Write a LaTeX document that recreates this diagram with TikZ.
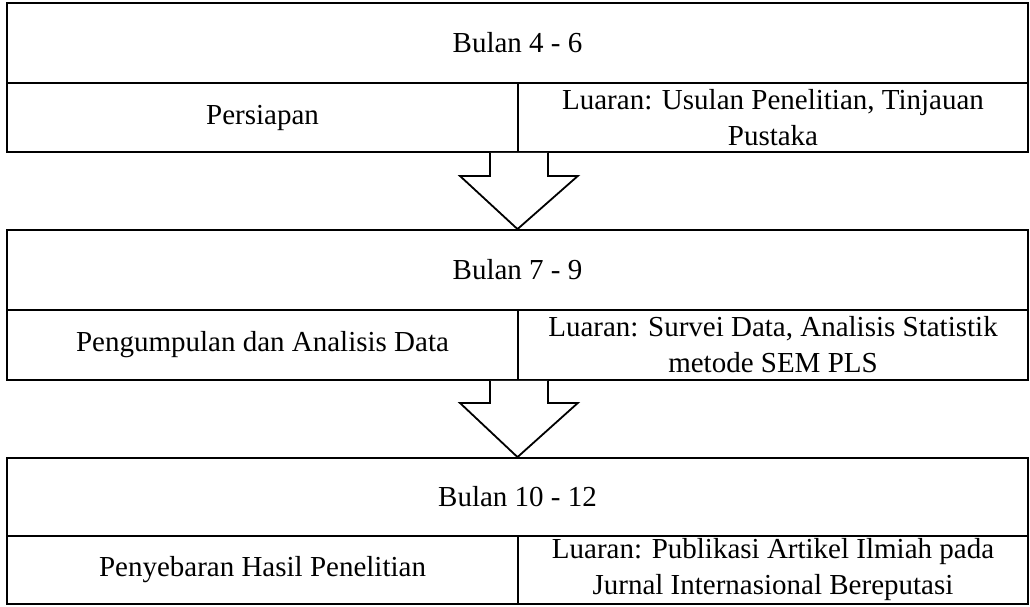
\documentclass[tikz,border=0pt]{standalone}
\usepackage{fontspec}
\setmainfont{Liberation Serif}
\usetikzlibrary{calc}
\begin{document}
\begin{tikzpicture}[x=1pt,y=-1pt,
    cell/.style={draw,line width=1.8pt,inner sep=0pt,align=center,
      font=\fontsize{29}{36}\selectfont},
    panah/.style={draw,line width=1.8pt,fill=white,line join=miter}]
  \useasboundingbox (0,0) rectangle (1030,607);
  % tahap 1
  \node[cell,minimum width=1021pt,minimum height=80pt] (bulan1) at (517.5,43) {Bulan 4 - 6};
  \node[cell,minimum width=511pt,minimum height=69pt] (kiri1) at (262.5,117.5) {Persiapan};
  \node[cell,minimum width=510pt,minimum height=69pt] (kanan1) at (773,117.5)
    {Luaran: Usulan Penelitian, Tinjauan\\Pustaka};
  % tahap 2
  \node[cell,minimum width=1021pt,minimum height=80pt] (bulan2) at (517.5,270) {Bulan 7 - 9};
  \node[cell,minimum width=511pt,minimum height=70pt] (kiri2) at (262.5,345) {Pengumpulan dan Analisis Data};
  \node[cell,minimum width=510pt,minimum height=70pt] (kanan2) at (773,345)
    {Luaran: Survei Data, Analisis Statistik\\metode SEM PLS};
  % tahap 3
  \node[cell,minimum width=1021pt,minimum height=78pt] (bulan3) at (517.5,497) {Bulan 10 - 12};
  \node[cell,minimum width=511pt,minimum height=68pt] (kiri3) at (262.5,570) {Penyebaran Hasil Penelitian};
  \node[cell,minimum width=510pt,minimum height=68pt] (kanan3) at (773,570)
    {Luaran: Publikasi Artikel Ilmiah pada\\Jurnal Internasional Bereputasi};
  % panah
  \draw[panah] ($(kiri1.south east)+(-29,0)$) -- ++(0,23) -- ++(-30,0) -- (bulan2.north)
    -- ($(kiri1.south east)+(59,23)$) -- ++(-30,0) -- ++(0,-23);
  \draw[panah] ($(kiri2.south east)+(-29,0)$) -- ++(0,22) -- ++(-30,0) -- (bulan3.north)
    -- ($(kiri2.south east)+(59,22)$) -- ++(-30,0) -- ++(0,-22);
\end{tikzpicture}
\end{document}
